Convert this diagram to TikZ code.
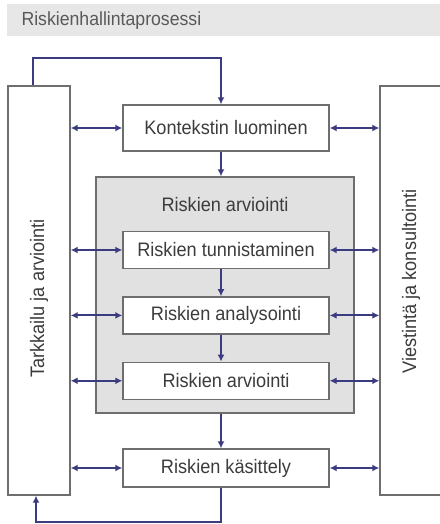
\documentclass[tikz,border=0pt]{standalone}
\usepackage{fontspec}
\setmainfont{Liberation Sans}[FakeStretch=0.93]
\usepackage{xcolor}
\usetikzlibrary{positioning,arrows.meta}

\definecolor{linkblue}{HTML}{3B3B80}
\definecolor{boxgray}{HTML}{6E6E6E}
\definecolor{txtgray}{HTML}{3C3C3C}
\definecolor{assessgray}{HTML}{E1E1E1}
\definecolor{bandgray}{HTML}{E7E7E7}

\begin{document}
\begin{tikzpicture}[x=1pt, y=-1pt, node distance=27pt,
        block/.style={draw=boxgray, line width=1.4pt, fill=white, minimum width=206pt, minimum height=37pt, inner sep=0pt, text=txtgray, font=\fontsize{19.5}{22}\selectfont},
        side/.style={draw=boxgray, line width=1.4pt, fill=white, rotate=90, minimum width=409pt, minimum height=62pt, inner sep=0pt, text=txtgray, font=\fontsize{19.5}{22}\selectfont},
        assess/.style={draw=boxgray, line width=1.4pt, fill=assessgray, minimum width=258pt, minimum height=236pt, inner sep=0pt},
        link/.style={draw=linkblue, line width=2pt, -{Latex[length=7pt,width=7pt]}},
        link2/.style={link, {Latex[length=7pt,width=7pt]}-{Latex[length=7pt,width=7pt]}}
    ]
        \useasboundingbox (0,0) rectangle (439,524);

        % title band
        \fill[bandgray] (7,4) rectangle (445,36);
        \node[anchor=west, text=txtgray!85, font=\fontsize{19}{22}\selectfont] (head) at (18,21) {Riskienhallintaprosessi};

        \node[side] (mon) at (39,290.5) {Tarkkailu ja arviointi\hspace*{16pt}};
        \node[side] (com) at (411,290.5) {\hspace*{18pt}Viestintä ja konsultointi};

        \node[assess] (ass) at (225,295) {};
        \node[text=txtgray, font=\fontsize{19.5}{22}\selectfont] (asstitle) at (225,205) {Riskien arviointi};

        \node[block, minimum height=46pt] (ctx) at (226,128) {Kontekstin luominen};
        \node[block] (ident) at (226,250) {Riskien tunnistaminen};
        \node[block, below=of ident] (anal) {Riskien analysointi};
        \node[block, below=of anal] (eval) {Riskien arviointi};
        \node[block, minimum height=38pt] (treat) at (226,468) {Riskien käsittely};

        \coordinate (axis) at (221,0);

        % main flow
        \draw[link] (ctx.south -| axis) -- (ass.north -| axis);
        \draw[link] (ident.south -| axis) -- (anal.north -| axis);
        \draw[link] (anal.south -| axis) -- (eval.north -| axis);
        \draw[link] (ass.south -| axis) -- (treat.north -| axis);

        % feedback loops
        \draw[link] ([xshift=-6pt]mon.east) -- ++(0,-27) -| (ctx.north -| axis);
        \draw[link] (treat.south -| axis) -- ++(0,34) -| ([xshift=-3pt]mon.west);

        \foreach \b in {ctx,ident,anal,eval,treat} {
            \draw[link2] (\b.west -| mon.south) -- (\b.west);
            \draw[link2] (\b.east) -- (\b.east -| com.north);
        }
    \end{tikzpicture}
\end{document}
